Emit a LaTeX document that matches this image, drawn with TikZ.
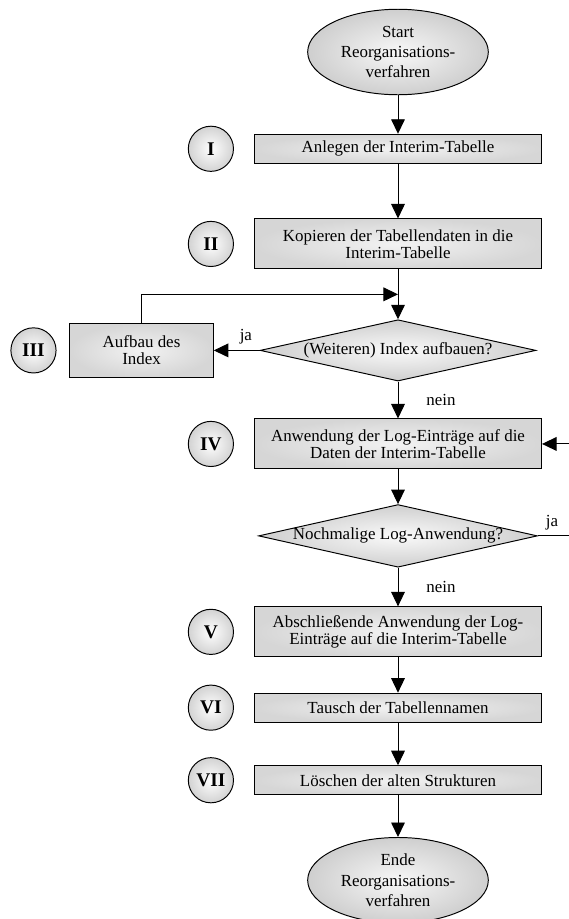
\documentclass[tikz,border=0pt]{standalone}
\usepackage{fontspec}
\setmainfont{Liberation Serif}
\usetikzlibrary{positioning, shapes.geometric, arrows.meta, calc}

\tikzset{
    schritt/.style={rectangle, draw, line width=0.6pt, align=center,
        minimum width=178pt, minimum height=18pt, inner sep=2pt,
        inner color=gray!10, outer color=gray!32},
    zweizeilig/.style={minimum height=31pt},
    entscheidung/.style={diamond, draw, line width=0.6pt, aspect=4.45,
        minimum width=171pt, minimum height=38pt, inner sep=0pt,
        inner color=gray!4, outer color=gray!38},
    terminal/.style={ellipse, draw, line width=0.6pt, align=center,
        minimum width=112pt, minimum height=53pt, inner sep=0pt,
        inner color=gray!6, outer color=gray!38,
        font=\fontsize{10.5pt}{12.5pt}\selectfont},
    nummer/.style={circle, draw, line width=0.6pt, minimum size=28pt,
        inner sep=0pt, font=\large\bfseries,
        inner color=white, outer color=gray!35},
    pfeil/.style={draw, line width=0.6pt, -{Triangle[length=9pt, width=8.5pt]}}
}

\begin{document}
\begin{tikzpicture}[x=0.62pt, y=-0.62pt, on grid, font=\fontsize{10.5pt}{10.3pt}\selectfont]
    \useasboundingbox (0,0) rectangle (569,919);

    \node[terminal] (start) at (398,52) {Start\\Reorganisations-\\verfahren};
    \node[schritt, below=60pt of start] (anlegen) {Anlegen der Interim-Tabelle};
    \node[schritt, zweizeilig, below=59pt of anlegen] (kopieren)
        {Kopieren der Tabellendaten in die\\Interim-Tabelle};
    \node[entscheidung, below=66pt of kopieren] (index) {(Weiteren) Index aufbauen?};
    \node[schritt, minimum width=89pt, minimum height=33pt,
          left=159pt of index] (aufbau) {Aufbau des\\Index};
    \node[schritt, zweizeilig, below=58pt of index] (log)
        {Anwendung der Log-Einträge auf die\\Daten der Interim-Tabelle};
    \node[entscheidung, below=57pt of log] (nochmal) {Nochmalige Log-Anwendung?};
    \node[schritt, zweizeilig, below=59.5pt of nochmal] (abschluss)
        {Abschließende Anwendung der Log-\\Einträge auf die Interim-Tabelle};
    \node[schritt, below=47pt of abschluss] (tausch) {Tausch der Tabellennamen};
    \node[schritt, below=45pt of tausch] (loeschen) {Löschen der alten Strukturen};
    \node[terminal, below=62pt of loeschen] (ende) {Ende\\Reorganisations-\\verfahren};

    % Schrittnummern
    \node[nummer, left=116pt of anlegen] (n1) {I};
    \node[nummer, left=116pt of kopieren] (n2) {II};
    \node[nummer, left=67pt of aufbau] (n3) {III};
    \node[nummer, left=116pt of log] (n4) {IV};
    \node[nummer, left=116pt of abschluss] (n5) {V};
    \node[nummer, left=116pt of tausch] (n6) {VI};
    \node[nummer, left=116pt of loeschen] (n7) {VII};

    \coordinate (rueck) at ($(kopieren.south)!0.5!(index.north)$);

    \draw[pfeil] (start) -- (anlegen);
    \draw[pfeil] (anlegen) -- (kopieren);
    \draw[pfeil] (kopieren) -- (index);
    \draw[pfeil] (aufbau.north) |- (rueck);
    \draw[pfeil] (index) -- node[above, pos=0.3] {ja} (aufbau);
    \draw[pfeil] (index) -- node[right=14pt] {nein} (log);
    \draw[pfeil] (log) -- (nochmal);
    \draw[pfeil] (nochmal.east) -- node[above, pos=0.35] {ja} ++(25pt,0) |- (log.east);
    \draw[pfeil] (nochmal) -- node[right=14pt] {nein} (abschluss);
    \draw[pfeil] (abschluss) -- (tausch);
    \draw[pfeil] (tausch) -- (loeschen);
    \draw[pfeil] (loeschen) -- (ende);
\end{tikzpicture}
\end{document}
